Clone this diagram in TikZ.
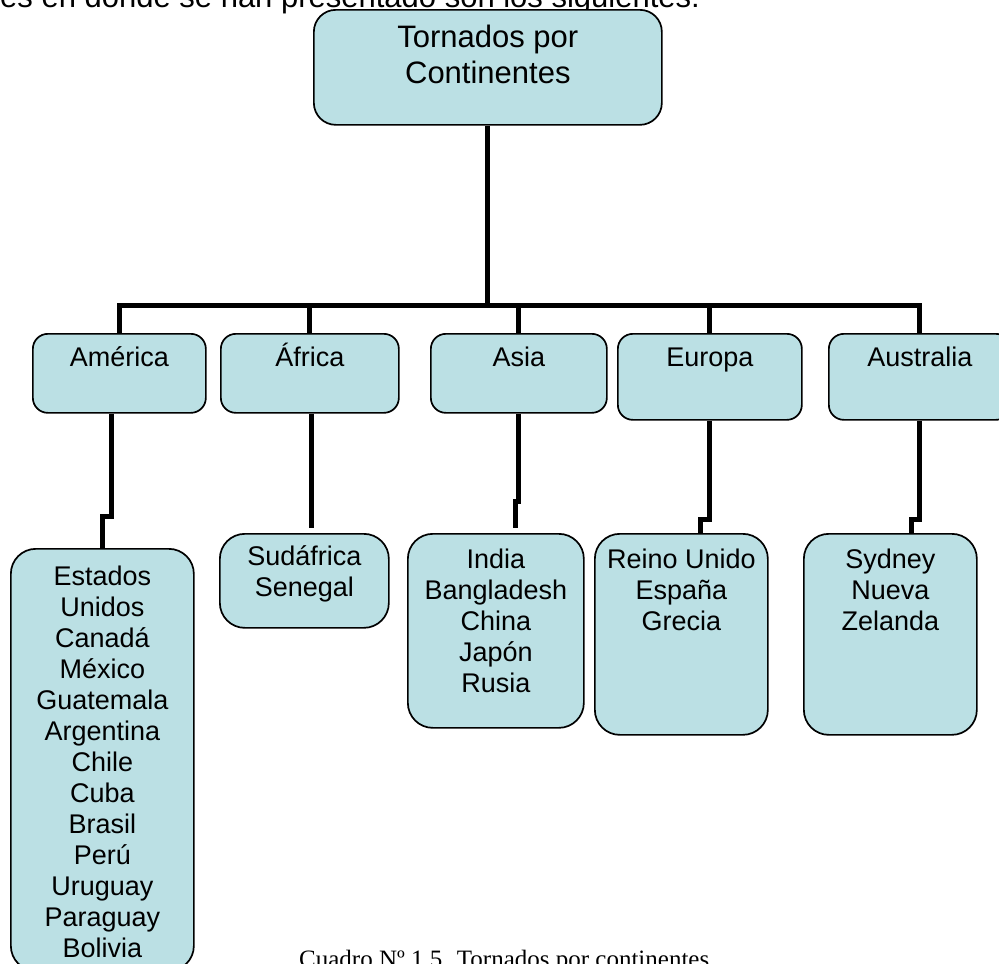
\documentclass[tikz,border=0pt]{standalone}
\usepackage{fontspec}
\setmainfont{Liberation Sans}
\newfontfamily\serifcap{Liberation Serif}
\usetikzlibrary{calc}
\definecolor{paleblue}{RGB}{187,224,228}
\newcommand{\boxtext}[4]{\parbox[c][#2][t]{#1}{\centering\rule{0pt}{#3}#4}}
\tikzset{
    link/.style = {line width=5pt, line join=miter},
    box/.style = {
      draw=black,
      line width=1.7pt,
      fill=paleblue,
      rounded corners=15pt,
      rectangle,
      inner sep=0pt,
      anchor=north west,
      font=\fontsize{27}{31}\selectfont
    },
    bigbox/.style = {box, rounded corners=22pt, font=\fontsize{31}{36}\selectfont},
    listbox/.style = {box, rounded corners=25pt},
}

\begin{document}
\begin{tikzpicture}[x=1pt, y=1pt]
      \useasboundingbox (0,0) rectangle (999,-964);

      \node[anchor=base west, inner sep=0pt, font=\fontsize{31}{36}\selectfont] (intro) at (0,-7) {es en donde se han presentado son los siguientes:};

      \node[bigbox] (tornados) at (313,-9) {\boxtext{348pt}{115pt}{38pt}{Tornados por\\Continentes}};

      \node[box] (america) at (32,-333) {\boxtext{173pt}{79pt}{33pt}{América}};
      \node[box] (africa) at (220,-333) {\boxtext{178pt}{79pt}{33pt}{África}};
      \node[box] (asia) at (430,-333) {\boxtext{176pt}{79pt}{33pt}{Asia}};
      \node[box] (europa) at (617,-333) {\boxtext{184pt}{86pt}{33pt}{Europa}};
      \node[box] (australia) at (828,-333) {\boxtext{182pt}{86pt}{33pt}{Australia}};

      \node[listbox] (amlist) at (10,-548) {\boxtext{183pt}{422pt}{37pt}{Estados\\Unidos\\Canadá\\México\\Guatemala\\Argentina\\Chile\\Cuba\\Brasil\\Perú\\Uruguay\\Paraguay\\Bolivia}};
      \node[listbox] (aflist) at (219,-533) {\boxtext{169pt}{94pt}{32pt}{Sudáfrica\\Senegal}};
      \node[listbox] (aslist) at (407,-533) {\boxtext{176pt}{194pt}{35pt}{India\\Bangladesh\\China\\Japón\\Rusia}};
      \node[listbox] (eulist) at (594,-533) {\boxtext{173pt}{201pt}{35pt}{Reino Unido\\España\\Grecia}};
      \node[listbox] (aulist) at (803,-533) {\boxtext{173pt}{201pt}{35pt}{Sydney\\Nueva\\Zelanda}};

      \coordinate (hub) at (tornados.south |- 0,-305);

      \draw[link] (tornados.south) -- (hub);
      \draw[link] (hub) -| (america.north);
      \draw[link] (hub) -| (africa.north);
      \draw[link] (hub) -| (asia.north);
      \draw[link] (hub) -| (europa.north);
      \draw[link] (hub) -| (australia.north);

      \draw[link] ([xshift=-8pt]america.south) -- ++(0,-103) -| (amlist.north);
      \draw[link, shorten >=5pt] ([xshift=2pt]africa.south) -- ([xshift=2pt]africa.south |- aflist.north);
      \draw[link, shorten >=5pt] (asia.south) -- ++(0,-88) -| ([xshift=20pt]aslist.north);
      \draw[link] (europa.south) -- ++(0,-99) -| ([xshift=19pt]eulist.north);
      \draw[link] (australia.south) -- ++(0,-99) -| ([xshift=21pt]aulist.north);

      \node[anchor=base west, inner sep=0pt, font=\serifcap\fontsize{25}{30}\selectfont] (caption) at (299,-967) {Cuadro Nº 1.5. Tornados por continentes};
\end{tikzpicture}
\end{document}
